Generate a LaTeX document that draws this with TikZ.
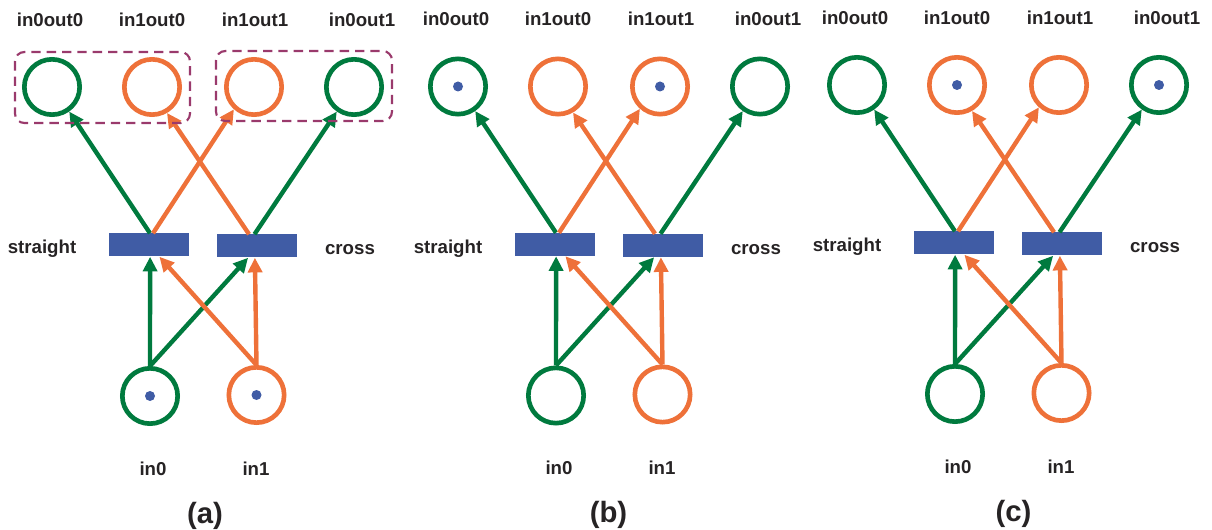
\documentclass[tikz,border=0pt]{standalone}
\usepackage{fontspec}
\setmainfont{Liberation Sans}
\usetikzlibrary{arrows.meta,calc}
\definecolor{pgreen}{HTML}{007A3E}
\definecolor{porange}{HTML}{EE7139}
\definecolor{tblue}{HTML}{405CA5}
\definecolor{dpurple}{HTML}{9A3A6C}
\definecolor{txt}{HTML}{262324}
\tikzset{
  place/.style={circle, draw, line width=3.5pt, minimum size=41.5pt, inner sep=0pt},
  gplace/.style={place, draw=pgreen},
  oplace/.style={place, draw=porange},
  trans/.style={rectangle, fill=tblue, minimum width=60pt, minimum height=17.25pt, inner sep=0pt},
  lbl/.style={font=\bfseries\fontsize{14}{16}\selectfont, text=txt, anchor=base, inner sep=0pt},
  capt/.style={font=\bfseries\fontsize{22}{24}\selectfont, text=txt, anchor=base, inner sep=0pt},
  arc/.style={line width=3.3pt, -{Triangle[length=11pt,width=10.5pt]}},
  garc/.style={arc, draw=pgreen},
  oarc/.style={arc, draw=porange},
  tok/.style={circle, fill=tblue, minimum size=7.5pt, inner sep=0pt},
  group/.style={draw=dpurple, line width=1.6pt, dash pattern=on 7pt off 4.5pt, rounded corners=7pt},
}
% #1 x shift, #2 y shift, #3 prefix, #4 caption, #5 caption x
\newcommand\petripanel[5]{%
\begin{scope}[shift={(#1,#2)}]
  \node[gplace] (#3p00) at (52,87) {};
  \node[oplace] (#3p10) at (152,87) {};
  \node[oplace] (#3p11) at (254,87) {};
  \node[gplace] (#3p01) at (354,87) {};
  \node[lbl] (#3l00) at (50,26.5) {in0out0};
  \node[lbl] (#3l10) at (152,26.5) {in1out0};
  \node[lbl] (#3l11) at (255,26.5) {in1out1};
  \node[lbl] (#3l01) at (362,26.5) {in0out1};
  \node[trans] (#3ts) at (148.5,245) {};
  \node[trans] (#3tc) at (256.5,246) {};
  \node[lbl] (#3ls) at (42,254) {straight};
  \node[lbl] (#3lc) at (350,255) {cross};
  \node[gplace] (#3i0) at (150,396) {};
  \node[oplace] (#3i1) at (256.5,395) {};
  \node[lbl] (#3li0) at (153,475) {in0};
  \node[lbl] (#3li1) at (256,475) {in1};
  \node[capt] (#3cap) at (#5,523) {(#4)};
  \draw[garc] ([xshift=1.1pt]#3ts.north) -- (#3p00.305);
  \draw[oarc] ([xshift=3.4pt]#3ts.north) -- (#3p11.228);
  \draw[oarc] ([xshift=-5.6pt]#3tc.north) -- (#3p10.300);
  \draw[garc] ([xshift=-1.5pt]#3tc.north) -- (#3p01.235);
  \draw[garc] (#3i0.north) -- ([xshift=1.2pt]#3ts.south);
  \draw[garc] (#3i0.north) -- ([xshift=-6.3pt]#3tc.south);
  \draw[oarc] (#3i1.north) -- ([xshift=8.2pt]#3ts.south);
  \draw[oarc] (#3i1.north) -- ([xshift=-1.2pt]#3tc.south);
\end{scope}}
\begin{document}
\begin{tikzpicture}[x=0.75pt, y=-0.75pt]
  \useasboundingbox (0,0) rectangle (1212,530);
  \petripanel{0}{0}{a}{a}{205}
  \petripanel{406}{-0.5}{b}{b}{202.5}
  \petripanel{805}{-2}{c}{c}{208.5}
  % panel (a): groups and tokens
  \draw[group] (15,52) rectangle (190,123);
  \draw[group] (216,51) rectangle (392,121);
  \node[tok] (ta0) at (ai0) {};
  \node[tok] (ta1) at (ai1) {};
  % panel (b): tokens
  \node[tok] (tb0) at (bp00) {};
  \node[tok] (tb1) at (bp11) {};
  % panel (c): tokens
  \node[tok] (tc0) at (cp10) {};
  \node[tok] (tc1) at (cp01) {};
\end{tikzpicture}
\end{document}
